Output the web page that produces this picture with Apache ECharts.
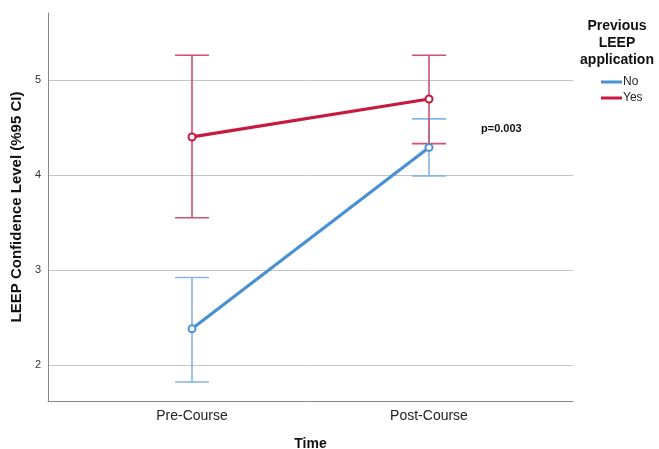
<!DOCTYPE html>
<html>
<head>
<meta charset="utf-8">
<script src="https://cdn.jsdelivr.net/npm/echarts@6/dist/echarts.min.js"></script>
<style>
  html, body { margin: 0; padding: 0; background: #fff; }
  #chart { width: 659px; height: 449px; }
</style>
</head>
<body>
<div id="chart"></div>
<script>
// Time points on the x axis
const timePoints = ['Pre-Course', 'Post-Course'];
const yTicks = [2, 3, 4, 5];

// Mean LEEP confidence and 95% CI, by previous LEEP application
const noMean = [2.38, 4.29];
const noLow = [1.82, 3.99];
const noHigh = [2.92, 4.59];

const yesMean = [4.40, 4.80];
const yesLow = [3.55, 4.33];
const yesHigh = [5.26, 5.26];

const groupNames = ['No', 'Yes'];
const pLabel = 'p=0.003';

const FONT = '"Liberation Sans", Arial, sans-serif';
const NO_LINE = '#4a91d3';
const YES_LINE = '#c8183d';
const NO_BAR = '#86b6e2';
const YES_BAR = '#d4506f';

function errorSeries(name, low, high, color) {
  return {
    type: 'custom',
    name: name + ' CI',
    z: 1,
    silent: true,
    data: low.map((l, i) => [i, l, high[i]]),
    renderItem: function (params, api) {
      const top = api.coord([api.value(0), api.value(2)]);
      const bot = api.coord([api.value(0), api.value(1)]);
      const cap = 17;
      const style = { stroke: color, lineWidth: 1.6 };
      return {
        type: 'group',
        children: [
          { type: 'line', shape: { x1: top[0], y1: top[1], x2: bot[0], y2: bot[1] }, style },
          { type: 'line', shape: { x1: top[0] - cap, y1: top[1], x2: top[0] + cap, y2: top[1] }, style },
          { type: 'line', shape: { x1: bot[0] - cap, y1: bot[1], x2: bot[0] + cap, y2: bot[1] }, style }
        ]
      };
    }
  };
}

function meanSeries(name, mean, color) {
  return {
    type: 'line',
    name: name,
    z: 3,
    data: mean.map((v, i) => [i, v]),
    symbol: 'emptyCircle',
    symbolSize: 7,
    lineStyle: { color: color, width: 3.2 },
    itemStyle: { color: color, borderWidth: 1.5 }
  };
}

const chart = echarts.init(document.getElementById('chart'));
chart.setOption({
  animation: false,
  backgroundColor: '#fff',
  grid: { left: 48, top: 13, right: 86, bottom: 48, outerBoundsMode: 'none', containLabel: false },
  xAxis: {
    type: 'value',
    min: -0.6076,
    max: 1.6076,
    name: 'Time',
    nameLocation: 'middle',
    nameGap: 36,
    nameTextStyle: { fontFamily: FONT, fontWeight: 'bold', fontSize: 14, color: '#111' },
    axisLine: { show: true, onZero: false, lineStyle: { color: '#888', width: 1 } },
    axisTick: { show: false },
    splitLine: { show: false },
    axisLabel: {
      customValues: [0, 1],
      formatter: v => timePoints[Math.round(v)],
      fontFamily: FONT, fontSize: 14, color: '#222', margin: 8
    }
  },
  yAxis: {
    type: 'value',
    min: 1.62,
    max: 5.705,
    name: 'LEEP Confidence Level (%95 CI)',
    nameLocation: 'middle',
    nameGap: 23,
    nameTextStyle: { fontFamily: FONT, fontWeight: 'bold', fontSize: 15, color: '#111' },
    axisLine: { show: true, onZero: false, lineStyle: { color: '#888', width: 1 } },
    axisTick: { show: false, customValues: yTicks },
    splitLine: { show: true, lineStyle: { color: '#c4c4c4', width: 1 } },
    axisLabel: {
      customValues: yTicks,
      fontFamily: FONT, fontSize: 11, color: '#333', margin: 7
    }
  },
  legend: {
    orient: 'vertical',
    left: 596,
    top: 71,
    itemWidth: 21,
    itemHeight: 3,
    itemGap: 4,
    icon: 'rect',
    data: groupNames,
    textStyle: { fontFamily: FONT, fontSize: 12, color: '#222', padding: [0, 0, 0, -4] }
  },
  graphic: [
    {
      type: 'text',
      x: 617,
      y: 18,
      style: {
        text: 'Previous\nLEEP\napplication',
        fill: '#111',
        font: 'bold 14px ' + FONT,
        align: 'center',
        lineHeight: 17
      }
    },
    {
      type: 'text',
      x: 481,
      y: 123,
      style: { text: pLabel, fill: '#111', font: 'bold 11px ' + FONT }
    }
  ],
  series: [
    errorSeries('No', noLow, noHigh, NO_BAR),
    errorSeries('Yes', yesLow, yesHigh, YES_BAR),
    meanSeries('No', noMean, NO_LINE),
    meanSeries('Yes', yesMean, YES_LINE)
  ]
});
</script>
</body>
</html>
